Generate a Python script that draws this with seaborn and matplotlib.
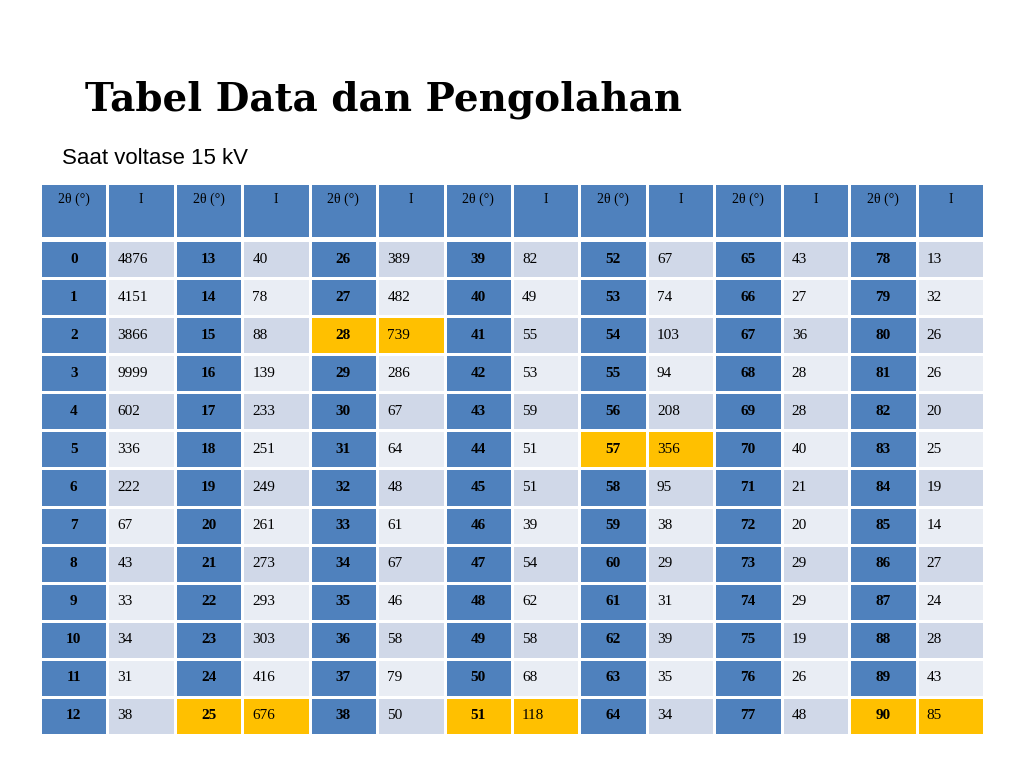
import matplotlib
matplotlib.use("Agg")
import matplotlib.pyplot as plt
from matplotlib.colors import ListedColormap
import numpy as np
import seaborn as sns

# data: 2theta angles in 7 column pairs, intensity values
angles = [list(range(k * 13, k * 13 + 13)) for k in range(7)]
intens = [
    [4876, 4151, 3866, 9999, 602, 336, 222, 67, 43, 33, 34, 31, 38],
    [40, 78, 88, 139, 233, 251, 249, 261, 273, 293, 303, 416, 676],
    [389, 482, 739, 286, 67, 64, 48, 61, 67, 46, 58, 79, 50],
    [82, 49, 55, 53, 59, 51, 51, 39, 54, 62, 58, 68, 118],
    [67, 74, 103, 94, 208, 356, 95, 38, 29, 31, 39, 35, 34],
    [43, 27, 36, 28, 28, 40, 21, 20, 29, 29, 19, 26, 48],
    [13, 32, 26, 26, 20, 25, 19, 14, 27, 24, 28, 43, 85],
]
highlight = [28, 57, 25, 51, 90]
headers = ["2θ (°)", "I"] * 7

nrows, ncols = 13, 14
# codes: 0 angle cell, 1 light stripe, 2 lighter stripe, 3 highlight
codes = np.zeros((nrows, ncols))
for p in range(7):
    for r in range(nrows):
        hl = angles[p][r] in highlight
        codes[r, 2 * p] = 3 if hl else 0
        codes[r, 2 * p + 1] = 3 if hl else (1 if r % 2 == 0 else 2)
cmap = ListedColormap(["#4F81BD", "#D0D8E8", "#E9EDF4", "#FFC000"])

W, H = 1024, 768
fig = plt.figure(figsize=(10.24, 7.68), dpi=100)
fig.patch.set_facecolor("white")

ax_h = fig.add_axes([40 / W, 1 - 238 / H, 944 / W, 55 / H])
sns.heatmap(np.zeros((1, ncols)), ax=ax_h, cmap=ListedColormap(["#4F81BD"]),
            cbar=False, linewidths=1, linecolor="white", vmin=0, vmax=1)
for j, h in enumerate(headers):
    ax_h.text(j + 0.5, 0.3, h, ha="center", va="center", fontsize=10,
              family="Liberation Serif", color="black")
ax_h.set_axis_off()

ax = fig.add_axes([40 / W, 1 - 735 / H, 944 / W, 495 / H])
sns.heatmap(codes, ax=ax, cmap=cmap, vmin=-0.5, vmax=3.5, cbar=False,
            linewidths=1, linecolor="white")
for p in range(7):
    for r in range(nrows):
        ax.text(2 * p + 0.5, r + 0.5, str(angles[p][r]), ha="center", va="center",
                fontsize=11, fontweight="bold", family="Liberation Serif")
        ax.text(2 * p + 1.15, r + 0.5, str(intens[p][r]), ha="left", va="center",
                fontsize=11, family="Liberation Serif")
ax.set_axis_off()

fig.text(85 / W, 1 - 100 / H, "Tabel Data dan Pengolahan", fontsize=28,
         fontweight="bold", family="DejaVu Serif", va="center")
fig.text(62 / W, 1 - 158 / H, "Saat voltase 15 kV", fontsize=16,
         family="Liberation Sans", va="center")

fig.savefig("out.png", dpi=100)
